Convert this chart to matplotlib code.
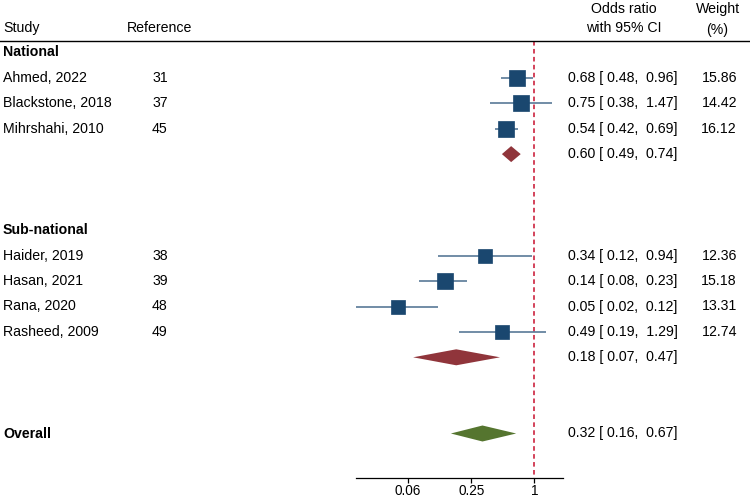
import numpy as np
import matplotlib
matplotlib.use("Agg")
import matplotlib.pyplot as plt
from matplotlib.transforms import blended_transform_factory

plt.rcParams["font.family"] = ["Liberation Sans", "DejaVu Sans"]
FS = 10.2

# study-level data
studies = ["Ahmed, 2022", "Blackstone, 2018", "Mihrshahi, 2010",
           "Haider, 2019", "Hasan, 2021", "Rana, 2020", "Rasheed, 2009"]
refs = ["31", "37", "45", "38", "39", "48", "49"]
odds = [0.68, 0.75, 0.54, 0.34, 0.14, 0.05, 0.49]
ci_lo = [0.48, 0.38, 0.42, 0.12, 0.08, 0.02, 0.19]
ci_hi = [0.96, 1.47, 0.69, 0.94, 0.23, 0.12, 1.29]
weights = [15.86, 14.42, 16.12, 12.36, 15.18, 13.31, 12.74]
study_rows = [1, 2, 3, 8, 9, 10, 11]

# pooled estimates
pooled_labels = ["National", "Sub-national", "Overall"]
pooled_est = [0.60, 0.18, 0.32]
pooled_lo = [0.49, 0.07, 0.16]
pooled_hi = [0.74, 0.47, 0.67]
pooled_rows = [4, 12, 15]
pooled_colors = ["#90353b", "#90353b", "#55752f"]
group_rows = [0, 7, 15]

tick_vals = [1 / 16, 0.25, 1]
tick_labels = ["0.06", "0.25", "1"]

NAVY = "#1a476f"
CI_COL = "#4a6e8e"
RED = "#c8102e"

W, H = 750, 497
fig = plt.figure(figsize=(W / 100, H / 100), dpi=100)

# forest panel: x 356..563 px, y from top down to axis line
x0, x1, yax = 356, 563, 478
ax = fig.add_axes([x0 / W, (H - yax) / H, (x1 - x0) / W, yax / H])
row0, step = 52.5, 25.4
ax.set_ylim((yax - row0) / step, -row0 / step)
ax.set_xscale("log")
ax.set_xlim(0.02, 1.87)
for s in ["top", "left", "right"]:
    ax.spines[s].set_visible(False)
ax.spines["bottom"].set_linewidth(0.9)
ax.set_yticks([])
ax.set_xticks(tick_vals)
ax.set_xticklabels(tick_labels, fontsize=9.8)
ax.minorticks_off()
ax.tick_params(axis="x", direction="out", length=3.6, width=0.9, pad=0.8)

header_y = (40.7 - row0) / step

# null line
ax.plot([1, 1], [header_y, (yax - row0) / step], color=RED, lw=1.1,
        dashes=(3, 2.2), clip_on=False, zorder=1)

# CIs and weighted squares
for r, o, lo, hi, w in zip(study_rows, odds, ci_lo, ci_hi, weights):
    ax.plot([lo, hi], [r, r], color=CI_COL, lw=1.1, solid_capstyle="butt", zorder=2)
    ax.plot(o, r, marker="s", ms=11.5 * np.sqrt(w / 15.86), color=NAVY,
            mec=NAVY, mew=0.5, zorder=3)

# diamonds
dh = 8 / step
for r, e, lo, hi, c in zip(pooled_rows, pooled_est, pooled_lo, pooled_hi, pooled_colors):
    ax.fill([lo, e, hi, e], [r, r - dh, r, r + dh], color=c, lw=0, zorder=3)

# text columns
tr = blended_transform_factory(fig.transFigure, ax.transData)
kw = dict(transform=tr, fontsize=FS, va="center")
hy = -0.95
ax.text(3 / W, hy, "Study", ha="left", **kw)
ax.text(160 / W, hy, "Reference", ha="center", **kw)
ax.text(624 / W, -1.70, "Odds ratio", ha="center", **kw)
ax.text(624 / W, hy, "with 95% CI", ha="center", **kw)
ax.text(717.5 / W, -1.70, "Weight", ha="center", **kw)
ax.text(717.5 / W, hy + 0.06, "(%)", ha="center", **kw)

ax.plot([0, 1], [header_y, header_y], color="black", lw=1.0,
        transform=tr, clip_on=False)

for r, lab in zip(group_rows, pooled_labels):
    ax.text(3 / W, r, lab, ha="left", fontweight="bold", **kw)

for r, name, ref, o, lo, hi, w in zip(study_rows, studies, refs, odds, ci_lo, ci_hi, weights):
    ax.text(3 / W, r, name, ha="left", **kw)
    ax.text(160 / W, r, ref, ha="center", **kw)
    ax.text(568 / W, r, f"{o:.2f} [{lo:5.2f}, {hi:5.2f}]", ha="left", **kw)
    ax.text(737 / W, r, f"{w:.2f}", ha="right", **kw)

for r, e, lo, hi in zip(pooled_rows, pooled_est, pooled_lo, pooled_hi):
    ax.text(568 / W, r, f"{e:.2f} [{lo:5.2f}, {hi:5.2f}]", ha="left", **kw)

fig.savefig("out.png", dpi=100)
